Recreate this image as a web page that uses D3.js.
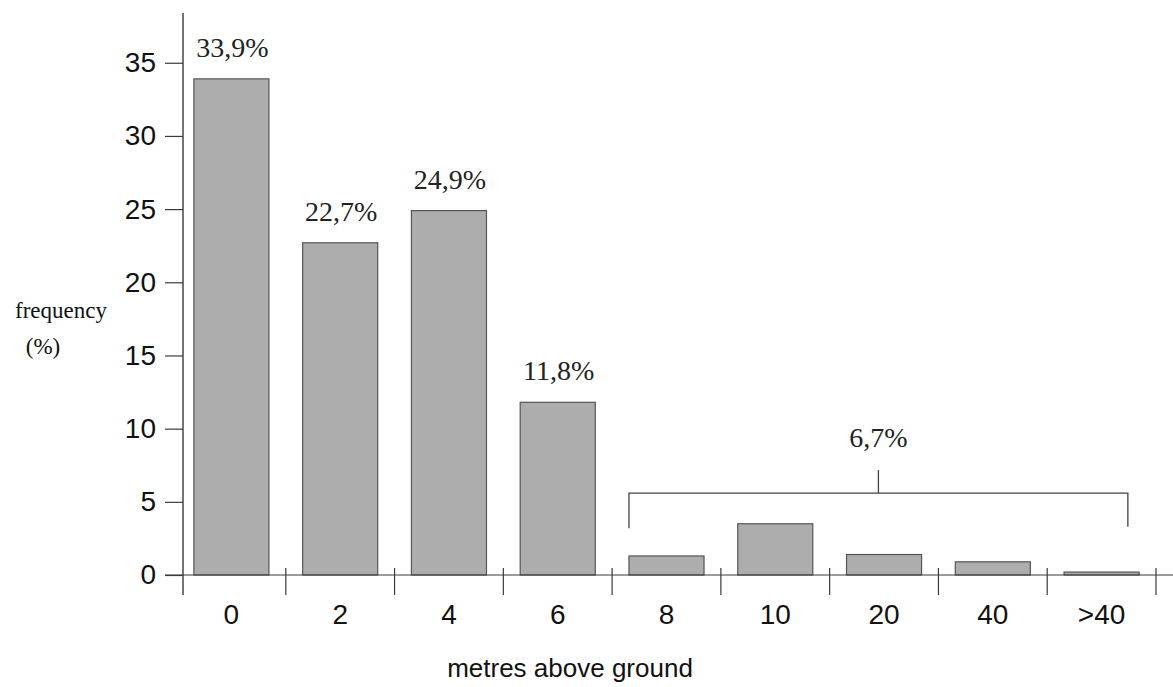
<!DOCTYPE html>
<html>
<head>
<meta charset="utf-8">
<script src="https://cdn.jsdelivr.net/npm/d3@7"></script>
<style>
  html, body { margin: 0; padding: 0; background: #fff; }
  svg { display: block; }
</style>
</head>
<body>
<svg id="chart" width="1173" height="687"></svg>
<script>
// ---- data ----
const categories = ["0", "2", "4", "6", "8", "10", "20", "40", ">40"];
const frequency = [33.9, 22.7, 24.9, 11.8, 1.3, 3.5, 1.4, 0.9, 0.2];
const valueLabels = ["33,9%", "22,7%", "24,9%", "11,8%", "", "", "", "", ""];
const groupCategories = ["8", ">40"];
const groupLabel = "6,7%";
const yTicks = [0, 5, 10, 15, 20, 25, 30, 35];
const yTitle = ["frequency", "(%)"];
const xTitle = "metres above ground";

// ---- layout ----
const svg = d3.select("#chart");
const x0 = 183, x1 = 1150;
const yBase = 575, yTop = 13;

const x = d3.scaleBand().domain(categories).range([x0, x1]).paddingInner(0.31).paddingOuter(0.1);
const y = d3.scaleLinear().domain([0, 38.4]).range([yBase, yTop]);

const stroke = "#3a3a3a";
const step = x.step();
const bounds = categories.map(c => x(c) - step * x.paddingInner() / 2)
  .concat([x(categories[categories.length - 1]) + x.bandwidth() + step * x.paddingInner() / 2]);
const axisX = x0;

// bars
svg.append("g").selectAll("rect").data(categories).join("rect")
  .attr("x", d => x(d))
  .attr("y", (d, i) => y(frequency[i]))
  .attr("width", x.bandwidth())
  .attr("height", (d, i) => y(0) - y(frequency[i]))
  .attr("fill", "#adadad")
  .attr("stroke", "#555")
  .attr("stroke-width", 1.2);

// y axis
const yAxis = svg.append("g").attr("transform", `translate(${axisX},0)`)
  .call(d3.axisLeft(y).tickValues(yTicks).tickSize(18).tickPadding(9).tickFormat(d3.format("d")));
yAxis.select(".domain").remove();
yAxis.selectAll(".tick line").attr("stroke", stroke).attr("stroke-width", 1.2);
yAxis.selectAll(".tick text").attr("font-family", "Liberation Sans, Arial, sans-serif")
  .attr("font-size", 28).attr("fill", "#111");
svg.append("line").attr("x1", axisX).attr("x2", axisX).attr("y1", yTop).attr("y2", yBase + 20)
  .attr("stroke", stroke).attr("stroke-width", 1.4);

// x axis line
svg.append("line").attr("x1", axisX - 18).attr("x2", 1173).attr("y1", y(0)).attr("y2", y(0))
  .attr("stroke", stroke).attr("stroke-width", 1.2);

// x boundary ticks (first one coincides with the y axis)
svg.append("g").selectAll("line").data(bounds.slice(1)).join("line")
  .attr("x1", d => d).attr("x2", d => d)
  .attr("y1", y(0) - 7).attr("y2", y(0) + 20)
  .attr("stroke", stroke).attr("stroke-width", 1.2);

// x labels
const xAxis = svg.append("g").attr("transform", `translate(0,${y(0)})`)
  .call(d3.axisBottom(x).tickSize(0).tickPadding(29));
xAxis.select(".domain").remove();
xAxis.selectAll(".tick text").attr("font-family", "Liberation Sans, Arial, sans-serif")
  .attr("font-size", 28).attr("fill", "#111");

// value labels
svg.append("g").selectAll("text").data(categories).join("text")
  .attr("x", d => x(d) + x.bandwidth() / 2 + 1)
  .attr("y", (d, i) => y(frequency[i]) - 22)
  .attr("text-anchor", "middle")
  .attr("font-family", "Liberation Serif, Times New Roman, serif")
  .attr("font-size", 28).attr("fill", "#222")
  .text((d, i) => valueLabels[i]);

// group bracket
const gx0 = x(groupCategories[0]);
const gx1 = x(groupCategories[1]) + x.bandwidth() * 0.85;
const gy = y(5.6);
const gmid = (gx0 + gx1) / 2;
svg.append("path")
  .attr("d", `M${gx0},${y(3.2)} V${gy} H${gx1} V${y(3.3)} M${gmid},${gy} V${gy - 23}`)
  .attr("fill", "none").attr("stroke", "#444").attr("stroke-width", 1.3);
svg.append("text").attr("x", gmid).attr("y", gy - 46)
  .attr("text-anchor", "middle")
  .attr("font-family", "Liberation Serif, Times New Roman, serif")
  .attr("font-size", 28).attr("fill", "#222")
  .text(groupLabel);

// y title
svg.append("text").attr("x", 61).attr("y", 318).attr("text-anchor", "middle")
  .attr("font-family", "Liberation Serif, Times New Roman, serif").attr("font-size", 23).attr("fill", "#111")
  .text(yTitle[0]);
svg.append("text").attr("x", 43).attr("y", 354).attr("text-anchor", "middle")
  .attr("font-family", "Liberation Serif, Times New Roman, serif").attr("font-size", 23).attr("fill", "#111")
  .text(yTitle[1]);

// x title
svg.append("text").attr("x", 570).attr("y", 677).attr("text-anchor", "middle")
  .attr("font-family", "Liberation Sans, Arial, sans-serif").attr("font-size", 26).attr("fill", "#111")
  .text(xTitle);
</script>
</body>
</html>
